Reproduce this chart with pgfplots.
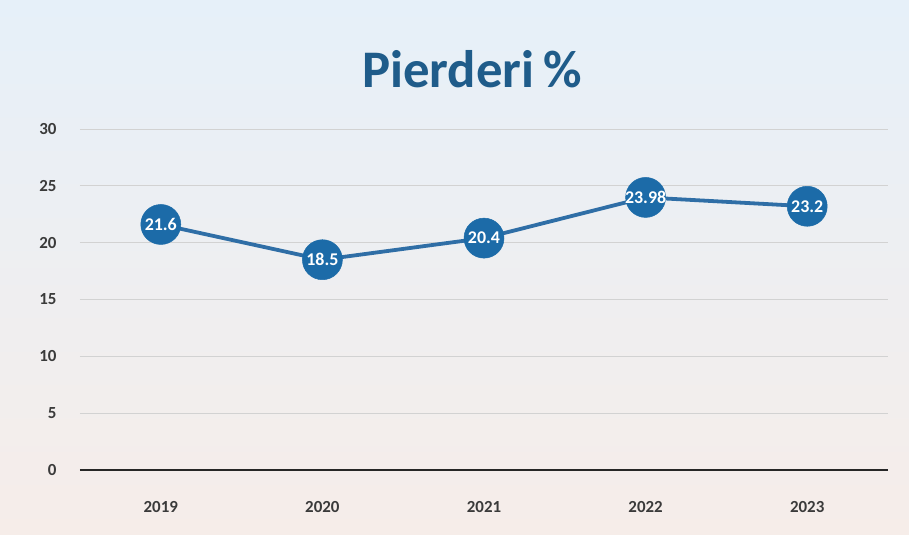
\documentclass[border=0pt]{standalone}
\usepackage{fontspec}
\setmainfont{Carlito}
\usepackage{pgfplots}
\pgfplotsset{compat=1.18}
\definecolor{titleblue}{HTML}{1F5C8A}
\definecolor{markblue}{HTML}{1C6BA8}
\definecolor{lineblue}{HTML}{2F6EA6}
\definecolor{bgtop}{HTML}{E6F0F9}
\definecolor{bgmid}{HTML}{EEF2F5}
\definecolor{bgbot}{HTML}{F6EDE9}
\definecolor{ticktext}{HTML}{3A3A3A}
\begin{document}
\begin{tikzpicture}[x=1bp,y=1bp]
\shade[top color=bgtop, middle color=bgmid, bottom color=bgbot] (-80,-65) rectangle (829,470);
\begin{axis}[
  at={(0,0)}, anchor=south west,
  scale only axis, width=808bp, height=341bp,
  xmin=-0.5, xmax=4.5, ymin=0, ymax=30,
  ytick={0,5,...,30},
  xtick={0,1,2,3,4},
  xticklabels={2019,2020,2021,2022,2023},
  axis x line*=bottom, axis y line*=left,
  y axis line style={draw=none},
  x axis line style={line width=2.5bp, color=black!85, -},
  major tick length=0,
  ymajorgrids,
  major grid style={gray!35, line width=0.8bp},
  yticklabel style={font=\bfseries\fontsize{17}{17}\selectfont, text=ticktext, xshift=-20bp},
  xticklabel style={font=\bfseries\fontsize{17}{17}\selectfont, text=ticktext, yshift=-28bp},
  /pgf/number format/assume math mode=true,
  clip=false,
]
\addplot[lineblue, line width=3.8bp, mark=*, mark size=20bp,
  mark options={fill=markblue, draw=markblue, line width=0.5bp},
  nodes near coords, point meta=explicit symbolic,
  nodes near coords style={anchor=center, text=white, font=\bfseries\fontsize{18}{18}\selectfont}]
  table[meta=label] {
x y label
0 21.6 21.6
1 18.5 18.5
2 20.4 20.4
3 23.98 23.98
4 23.2 23.2
};
\node[font=\bfseries\fontsize{53}{53}\selectfont, text=titleblue] at (rel axis cs:0.485,1.175) {Pierderi\,\%};
\end{axis}
\end{tikzpicture}
\end{document}
